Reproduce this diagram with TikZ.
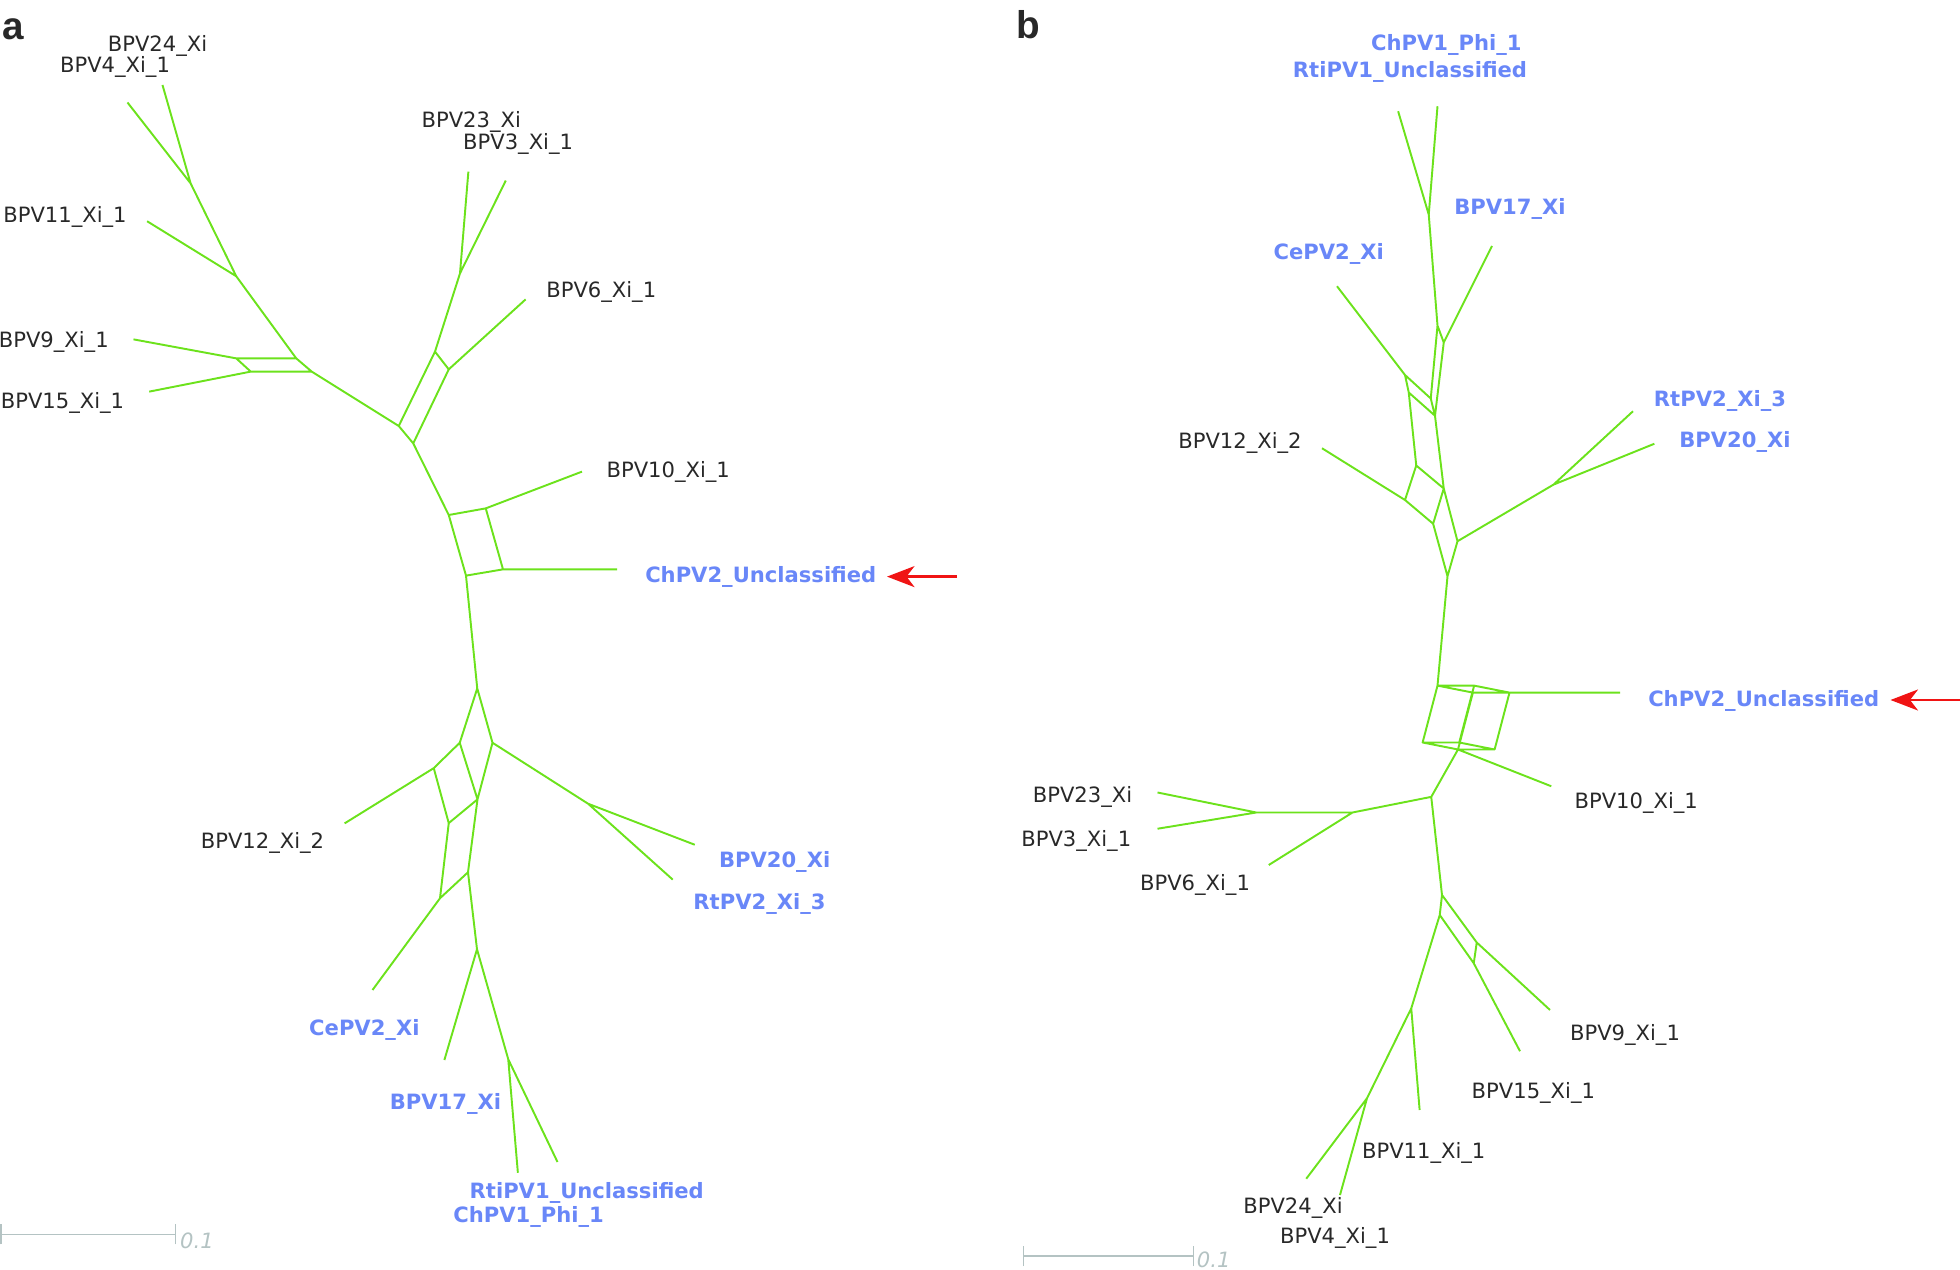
\documentclass[tikz,border=0pt]{standalone}
\usepackage{fontspec}
\setmainfont{DejaVu Sans}
\newfontfamily\panelfont{Liberation Sans}
\usetikzlibrary{arrows.meta}
\definecolor{branchgreen}{RGB}{108,226,28}
\definecolor{taxongray}{RGB}{40,40,40}
\definecolor{queryblue}{RGB}{105,135,248}
\definecolor{scalegray}{RGB}{180,195,195}
\definecolor{pointerred}{RGB}{240,20,20}
\tikzset{
		branch/.style={
			draw=branchgreen,
			line width=1.1pt,
			line join=round
		},
		taxon/.style={
			text=taxongray,
			inner sep=0pt,
			text height=8.7pt,
			text depth=0pt,
			font=\fontsize{12}{14}\selectfont
		},
		query/.style={
			taxon,
			text=queryblue,
			font=\fontsize{12}{14}\selectfont\bfseries
		},
		panel/.style={
			anchor=base west,
			inner sep=0pt,
			text=taxongray,
			font=\panelfont\fontsize{22}{26}\selectfont\bfseries
		},
		scalebar/.style={draw=scalegray, line width=0.8pt},
		scalelabel/.style={
			text=scalegray,
			inner sep=0pt,
			text height=8.7pt,
			text depth=0pt,
			font=\fontsize{12}{14}\selectfont\itshape
		},
		pointer/.style={
			draw=pointerred,
			line width=1.4pt,
			-{Stealth[length=5.5mm, width=4.2mm, inset=1.6mm]}
		}
	}

\begin{document}
\begin{tikzpicture}[x=0.025cm, y=-0.025cm]
			\useasboundingbox (0,0) rectangle (1568,1016);
			% panel a
			\node[panel] (pa) at (2,31.5) {a};
			\coordinate (a-l24) at (130,68);
			\coordinate (a-l4) at (102,82);
			\coordinate (a-j1) at (152.5,146.7);
			\coordinate (a-l11) at (117.7,177);
			\coordinate (a-j2) at (189,221);
			\coordinate (a-b1) at (237,286.7);
			\coordinate (a-b2) at (189,286.7);
			\coordinate (a-b3) at (200.6,297.3);
			\coordinate (a-b4) at (249.4,297.3);
			\coordinate (a-l9) at (106.8,271.5);
			\coordinate (a-l15) at (119.4,313.3);
			\coordinate (a-k1) at (319,340.8);
			\coordinate (a-k2) at (348,281.3);
			\coordinate (a-k3) at (359,295.5);
			\coordinate (a-k4) at (330.6,354.7);
			\coordinate (a-m1) at (368,218.7);
			\coordinate (a-l23) at (374.7,137.3);
			\coordinate (a-l3) at (404.6,144.5);
			\coordinate (a-l6) at (420.5,239.5);
			\coordinate (a-p1) at (359,412);
			\coordinate (a-p2) at (388.6,406.7);
			\coordinate (a-p3) at (402.4,455.5);
			\coordinate (a-p4) at (372.8,460.5);
			\coordinate (a-l10) at (465.6,377.3);
			\coordinate (a-lq) at (493.6,455.5);
			\coordinate (a-q1) at (381.8,550.7);
			\coordinate (a-q2) at (367.8,594.2);
			\coordinate (a-q3) at (394,594.2);
			\coordinate (a-q4) at (347,614.5);
			\coordinate (a-q5) at (382,639.5);
			\coordinate (a-q6) at (359,658.5);
			\coordinate (a-q7) at (374.4,697.8);
			\coordinate (a-q8) at (352,718.6);
			\coordinate (a-q9) at (381.6,759.4);
			\coordinate (a-q10) at (406.6,847.4);
			\coordinate (a-l12) at (275.7,658.7);
			\coordinate (a-r1) at (470.5,643);
			\coordinate (a-l20) at (555.8,675.8);
			\coordinate (a-lrt) at (538.2,703.7);
			\coordinate (a-lce) at (298,792);
			\coordinate (a-l17) at (355.5,848);
			\coordinate (a-lrti) at (414.3,938.2);
			\coordinate (a-lch) at (446,929.6);

			\draw[branch] (a-j1) -- (a-l24) (a-j1) -- (a-l4) (a-j1) -- (a-j2) -- (a-l11)
				(a-j2) -- (a-b1)
				(a-b1) -- (a-b2) -- (a-b3) -- (a-b4) -- cycle
				(a-b2) -- (a-l9) (a-b3) -- (a-l15)
				(a-b4) -- (a-k1)
				(a-k1) -- (a-k2) -- (a-k3) -- (a-k4) -- cycle
				(a-k2) -- (a-m1) -- (a-l23) (a-m1) -- (a-l3) (a-k3) -- (a-l6)
				(a-k4) -- (a-p1)
				(a-p1) -- (a-p2) -- (a-p3) -- (a-p4) -- cycle
				(a-p2) -- (a-l10) (a-p3) -- (a-lq)
				(a-p4) -- (a-q1) -- (a-q2) -- (a-q4) -- (a-l12)
				(a-q1) -- (a-q3) -- (a-q5) (a-q2) -- (a-q5)
				(a-q4) -- (a-q6) -- (a-q5) -- (a-q7) (a-q6) -- (a-q8) -- (a-q7) -- (a-q9)
				(a-q3) -- (a-r1) -- (a-l20) (a-r1) -- (a-lrt)
				(a-q8) -- (a-lce) (a-q9) -- (a-l17) (a-q9) -- (a-q10) -- (a-lrti) (a-q10) -- (a-lch);

			\node[taxon] (a-t24) at (126,35) {BPV24\_Xi};
			\node[taxon] (a-t4) at (92,52) {BPV4\_Xi\_1};
			\node[taxon] (a-t11) at (52,172) {BPV11\_Xi\_1};
			\node[taxon] (a-t9) at (43,272) {BPV9\_Xi\_1};
			\node[taxon] (a-t15) at (50,321) {BPV15\_Xi\_1};
			\node[taxon] (a-t23) at (377,95.5) {BPV23\_Xi};
			\node[taxon] (a-t3) at (414.5,113.3) {BPV3\_Xi\_1};
			\node[taxon] (a-t6) at (481,231.5) {BPV6\_Xi\_1};
			\node[taxon] (a-t10) at (534.6,375.5) {BPV10\_Xi\_1};
			\node[query] (a-tq) at (608.6,460) {ChPV2\_Unclassified};
			\node[taxon] (a-t12) at (210,673) {BPV12\_Xi\_2};
			\node[query] (a-t20) at (619.7,687.5) {BPV20\_Xi};
			\node[query] (a-trt) at (607.6,721.8) {RtPV2\_Xi\_3};
			\node[query] (a-tce) at (291.5,822) {CePV2\_Xi};
			\node[query] (a-t17) at (356.4,881.2) {BPV17\_Xi};
			\node[query] (a-trti) at (469.4,952.8) {RtiPV1\_Unclassified};
			\node[query] (a-tch) at (422.9,971.7) {ChPV1\_Phi\_1};

			\coordinate (a-arrow) at (765.6,461.3);
			\coordinate (a-tip) at (709.6,461.3);
			\draw[pointer] (a-arrow) -- (a-tip);

			\coordinate (a-s0) at (0.8,987.5);
			\coordinate (a-s1) at (140.5,987.5);
			\draw[scalebar] (a-s0) -- (a-s1) ([yshift=-2mm]a-s0) -- ([yshift=2mm]a-s0)
				([yshift=-2mm]a-s1) -- ([yshift=2mm]a-s1);
			\node[scalelabel] (a-scale) at (157.6,992.5) {0.1};

			% panel b
			\node[panel] (pb) at (813,30.6) {b};
			\coordinate (b-lta) at (1118.5,89);
			\coordinate (b-ltb) at (1150,85);
			\coordinate (b-t1) at (1143,171.7);
			\coordinate (b-t2) at (1150,260.5);
			\coordinate (b-t3) at (1155,274);
			\coordinate (b-l17) at (1193.6,196.8);
			\coordinate (b-c1) at (1124,300);
			\coordinate (b-lce) at (1069.6,229);
			\coordinate (b-t4) at (1144.6,318.8);
			\coordinate (b-c2) at (1127,314);
			\coordinate (b-t5) at (1148,332.6);
			\coordinate (b-c3) at (1133,372.4);
			\coordinate (b-t6) at (1155,390.8);
			\coordinate (b-c4) at (1124,400);
			\coordinate (b-l12) at (1057.6,358.6);
			\coordinate (b-c5) at (1146.5,419);
			\coordinate (b-t7) at (1166,433);
			\coordinate (b-r) at (1242.8,387.7);
			\coordinate (b-lrt) at (1306.4,329);
			\coordinate (b-l20) at (1323.5,355);
			\coordinate (b-u1) at (1158,461);
			\coordinate (b-xa) at (1150,548.5);
			\coordinate (b-xb) at (1179.3,548.5);
			\coordinate (b-xc) at (1178.3,554.1);
			\coordinate (b-xd) at (1207.6,554.1);
			\coordinate (b-ya) at (1138.1,594);
			\coordinate (b-yb) at (1167.4,594);
			\coordinate (b-yc) at (1166.4,599.6);
			\coordinate (b-yd) at (1195.7,599.6);
			\coordinate (b-lq) at (1296,554.1);
			\coordinate (b-l10) at (1241,629);
			\coordinate (b-w) at (1145,637.5);
			\coordinate (b-v1) at (1082,650);
			\coordinate (b-v2) at (1005,650);
			\coordinate (b-l23) at (926,634);
			\coordinate (b-l3) at (926,663);
			\coordinate (b-l6) at (1015,692);
			\coordinate (b-z1) at (1153.6,716);
			\coordinate (b-z2) at (1151.8,732);
			\coordinate (b-z3) at (1181.4,754);
			\coordinate (b-z4) at (1179,770.6);
			\coordinate (b-l9) at (1240,808);
			\coordinate (b-l15) at (1216,841);
			\coordinate (b-z5) at (1129,806.7);
			\coordinate (b-l11) at (1135.7,888);
			\coordinate (b-z6) at (1093.6,878.6);
			\coordinate (b-l24) at (1045,943);
			\coordinate (b-l4) at (1072,956);

			\draw[branch] (b-t1) -- (b-lta) (b-t1) -- (b-ltb) (b-t1) -- (b-t2) -- (b-t3) -- (b-l17)
				(b-t2) -- (b-t4) -- (b-t5) -- (b-t3)
				(b-lce) -- (b-c1) -- (b-t4) (b-c1) -- (b-c2) -- (b-t5)
				(b-c2) -- (b-c3) -- (b-t6) -- (b-t5)
				(b-c3) -- (b-c4) -- (b-l12) (b-c4) -- (b-c5) -- (b-t6) -- (b-t7)
				(b-c5) -- (b-u1) -- (b-t7) -- (b-r) -- (b-lrt) (b-r) -- (b-l20)
				(b-u1) -- (b-xa)
				(b-xa) -- (b-xb) -- (b-xd) -- (b-xc) -- cycle
				(b-xd) -- (b-lq)
				(b-ya) -- (b-yb) -- (b-yd) -- (b-yc) -- cycle
				(b-xa) -- (b-ya) (b-xb) -- (b-yb) (b-xc) -- (b-yc) (b-xd) -- (b-yd)
				(b-yc) -- (b-l10) (b-yc) -- (b-w) -- (b-v1) -- (b-v2) -- (b-l23) (b-v2) -- (b-l3)
				(b-v1) -- (b-l6)
				(b-w) -- (b-z1)
				(b-z1) -- (b-z2) -- (b-z4) -- (b-z3) -- cycle
				(b-z3) -- (b-l9) (b-z4) -- (b-l15)
				(b-z2) -- (b-z5) -- (b-l11) (b-z5) -- (b-z6) -- (b-l24) (b-z6) -- (b-l4);

			\node[query] (b-tch) at (1157,34) {ChPV1\_Phi\_1};
			\node[query] (b-trti) at (1128,55.8) {RtiPV1\_Unclassified};
			\node[query] (b-t17) at (1208,165.5) {BPV17\_Xi};
			\node[query] (b-tce) at (1063,201.7) {CePV2\_Xi};
			\node[taxon] (b-t12) at (992,353) {BPV12\_Xi\_2};
			\node[query] (b-trt) at (1376,319) {RtPV2\_Xi\_3};
			\node[query] (b-t20) at (1388,352) {BPV20\_Xi};
			\node[query] (b-tq) at (1411,558.7) {ChPV2\_Unclassified};
			\node[taxon] (b-t10) at (1309,640.5) {BPV10\_Xi\_1};
			\node[taxon] (b-t23) at (866,636) {BPV23\_Xi};
			\node[taxon] (b-t3) at (861,671) {BPV3\_Xi\_1};
			\node[taxon] (b-t6) at (956,706) {BPV6\_Xi\_1};
			\node[taxon] (b-t9) at (1300,826) {BPV9\_Xi\_1};
			\node[taxon] (b-t15) at (1226.7,873) {BPV15\_Xi\_1};
			\node[taxon] (b-t11) at (1139,921) {BPV11\_Xi\_1};
			\node[taxon] (b-t24) at (1034.4,965) {BPV24\_Xi};
			\node[taxon] (b-t4) at (1068,989) {BPV4\_Xi\_1};

			\coordinate (b-arrow) at (1575,560);
			\coordinate (b-tip) at (1512.4,560);
			\draw[pointer] (b-arrow) -- (b-tip);

			\coordinate (b-s0) at (818.7,1004.8);
			\coordinate (b-s1) at (954.7,1004.8);
			\draw[scalebar] (b-s0) -- (b-s1) ([yshift=-2mm]b-s0) -- ([yshift=2mm]b-s0)
				([yshift=-2mm]b-s1) -- ([yshift=2mm]b-s1);
			\node[scalelabel] (b-scale) at (971,1008) {0.1};
			\end{tikzpicture}
\end{document}
